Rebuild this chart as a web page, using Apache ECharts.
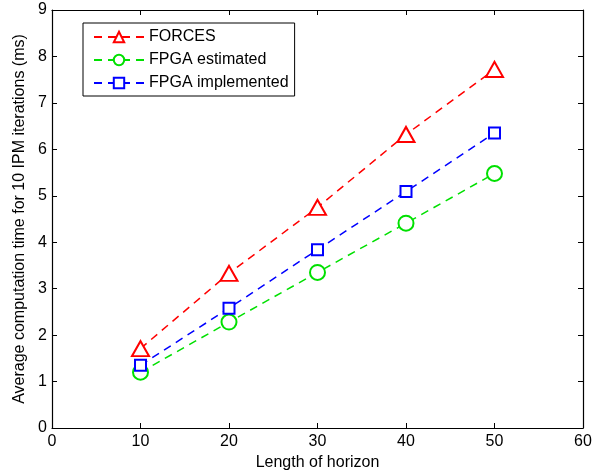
<!DOCTYPE html>
<html>
<head>
<meta charset="utf-8">
<script src="https://cdn.jsdelivr.net/npm/echarts@6/dist/echarts.min.js"></script>
<style>
  html, body { margin: 0; padding: 0; background: #fff; }
  #chart { width: 603px; height: 472px; }
</style>
</head>
<body>
<div id="chart"></div>
<script>
// donnees
const horizons = [10, 20, 30, 40, 50];
const forces = [1.71, 3.33, 4.75, 6.32, 7.72];
const fpgaEstimated = [1.20, 2.28, 3.35, 4.41, 5.48];
const fpgaImplemented = [1.35, 2.58, 3.84, 5.09, 6.35];

const font = "Liberation Sans, Arial, Helvetica, sans-serif";

function pairs(ys) {
  return horizons.map((x, i) => [x, ys[i]]);
}

function lineSeries(name, ys, color, symbol, size) {
  return {
    name,
    type: "line",
    data: pairs(ys),
    symbol,
    symbolSize: size,
    itemStyle: { color, borderColor: color, borderWidth: 1.6 },
    lineStyle: { color, width: 1.5, type: [8, 6] },
    emphasis: { disabled: true },
    animation: false
  };
}

const axisLine = { show: true, onZero: false, lineStyle: { color: "#000", width: 1.2 } };
const tick = { show: true, inside: true, length: 5, lineStyle: { color: "#000" } };
const txt = { fontFamily: font, fontSize: 16, color: "#000" };

const chart = echarts.init(document.getElementById("chart"));
chart.setOption({
  backgroundColor: "#fff",
  grid: { left: 52, right: 20, top: 10, bottom: 44, outerBoundsMode: "none", containLabel: false },
  legend: {
    left: 83,
    top: 23,
    orient: "vertical",
    backgroundColor: "#fff",
    borderColor: "#000",
    borderWidth: 1,
    padding: [6, 6, 5, 10],
    itemGap: 7,
    itemWidth: 50,
    itemHeight: 13,
    textStyle: txt,
    data: ["FORCES", "FPGA estimated", "FPGA implemented"]
  },
  xAxis: [
    {
      type: "value", min: 0, max: 60, interval: 10,
      name: "Length of horizon", nameLocation: "middle", nameGap: 24,
      nameTextStyle: txt,
      axisLine, axisTick: tick,
      axisLabel: Object.assign({ margin: 6 }, txt),
      splitLine: { show: false }
    },
    {
      type: "value", min: 0, max: 60, interval: 10, position: "top",
      axisLine, axisTick: tick, axisLabel: { show: false }, splitLine: { show: false }
    }
  ],
  yAxis: [
    {
      type: "value", min: 0, max: 9, interval: 1,
      name: "Average computation time for 10 IPM iterations (ms)",
      nameLocation: "middle", nameGap: 22,
      nameTextStyle: txt,
      axisLine, axisTick: tick,
      axisLabel: Object.assign({ margin: 5 }, txt),
      splitLine: { show: false }
    },
    {
      type: "value", min: 0, max: 9, interval: 1, position: "right",
      axisLine, axisTick: tick, axisLabel: { show: false }, splitLine: { show: false }
    }
  ],
  series: [
    lineSeries("FORCES", forces, "#ff0000", "emptyTriangle", [17, 15]),
    lineSeries("FPGA estimated", fpgaEstimated, "#00e000", "emptyCircle", 15),
    lineSeries("FPGA implemented", fpgaImplemented, "#0000ff", "emptyRect", 11)
  ]
});
</script>
</body>
</html>
